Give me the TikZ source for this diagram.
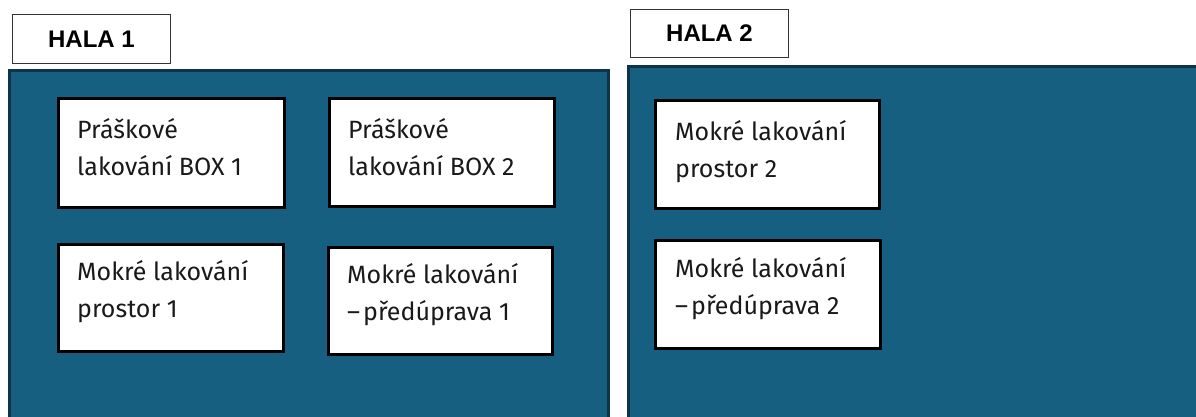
\documentclass[tikz,border=0pt]{standalone}
\usepackage{fontspec}
\setmainfont{Fira Sans}
\newfontfamily\labelfont{Liberation Sans}
\definecolor{halablue}{RGB}{23,95,128}
\definecolor{haladark}{RGB}{14,52,72}
\begin{document}
\begin{tikzpicture}[x=1pt,y=-1pt,
  hall/.style={draw=haladark,line width=2.5pt,fill=halablue},
  hlabel/.style={draw=black!80,line width=1pt,fill=white,inner sep=0pt,
    font=\labelfont\fontsize{24}{28}\selectfont\bfseries},
  inbox/.style={draw=black,line width=2.5pt,fill=white,inner sep=0pt},
  intext/.style={align=left,inner sep=0pt,text=black!90,
    font=\fontsize{25}{37}\selectfont}]
\useasboundingbox (0,0) rectangle (1196,416);
\clip (0,0) rectangle (1196,416);
\fill[white] (0,0) rectangle (1196,416);
% halls
\node[hall,anchor=north west,minimum width=599pt,minimum height=370pt] (h1) at (8,69) {};
\node[hall,anchor=north west,minimum width=600pt,minimum height=370pt] (h2) at (627,65) {};
% hall labels
\node[hlabel,anchor=north west,minimum width=158pt,minimum height=49pt] (l1) at (12,14) {\raisebox{-2pt}{HALA 1}};
\node[hlabel,anchor=north west,minimum width=158pt,minimum height=48pt] (l2) at (630,9) {\raisebox{-4pt}{HALA 2}};
% inner boxes hall 1
\node[inbox,anchor=north west,minimum width=226pt,minimum height=109pt] (p1) at (57,97) {};
\node[intext,anchor=west] (p1t) at ([xshift=20pt,yshift=6pt]p1.west) {Práškové\\lakování BOX 1};
\node[inbox,anchor=north west,minimum width=225pt,minimum height=108pt] (p2) at (328,97) {};
\node[intext,anchor=west] (p2t) at ([xshift=20pt,yshift=5.5pt]p2.west) {Práškové\\lakování BOX 2};
\node[inbox,anchor=north west,minimum width=225pt,minimum height=107pt] (m1) at (57,243) {};
\node[intext,anchor=west] (m1t) at ([xshift=20pt,yshift=6pt]m1.west) {Mokré lakování\\prostor 1};
\node[inbox,anchor=north west,minimum width=224pt,minimum height=107pt] (m2) at (327,246) {};
\node[intext,anchor=west] (m2t) at ([xshift=20pt,yshift=6pt]m2.west) {Mokré lakování\\–\kern3pt předúprava 1};
% inner boxes hall 2
\node[inbox,anchor=north west,minimum width=224pt,minimum height=108pt] (n1) at (654,99) {};
\node[intext,anchor=west] (n1t) at ([xshift=21pt,yshift=3pt]n1.west) {Mokré lakování\\prostor 2};
\node[inbox,anchor=north west,minimum width=225pt,minimum height=108pt] (n2) at (654,239) {};
\node[intext,anchor=west] (n2t) at ([xshift=21pt,yshift=6pt]n2.west) {Mokré lakování\\–\kern3pt předúprava 2};
\end{tikzpicture}
\end{document}
